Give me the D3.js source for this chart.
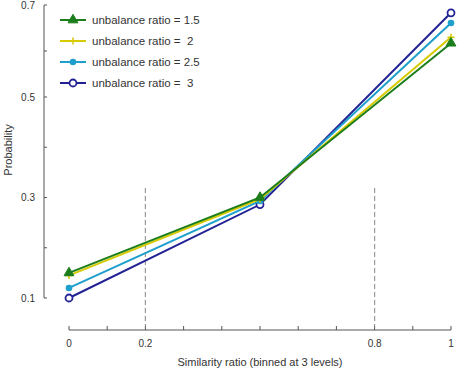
<!DOCTYPE html>
<html>
<head>
<meta charset="utf-8">
<script src="https://cdn.jsdelivr.net/npm/d3@7"></script>
<style>
  body { margin: 0; background: #fff; }
  svg text { font-family: "Liberation Sans", Arial, sans-serif; fill: #333; }
</style>
</head>
<body>
<svg id="chart" width="459" height="371"></svg>
<script>
// --- data ---
const xValues = [0, 0.5, 1];
const seriesNames = ["unbalance ratio = 1.5", "unbalance ratio =  2", "unbalance ratio = 2.5", "unbalance ratio =  3"];
const ratio15 = [0.150, 0.300, 0.617];
const ratio2 = [0.145, 0.297, 0.630];
const ratio25 = [0.120, 0.293, 0.661];
const ratio3 = [0.100, 0.286, 0.683];
const yTickLabels = [0.1, 0.3, 0.5, 0.7];
const xTickLabels = [0, 0.2, 0.8, 1];
const dashedAt = [0.2, 0.8];

const colors = ["#1b7d1b", "#d6ca00", "#1e9fcc", "#222295"];
const markers = ["triangle", "plus", "dot", "ring"];
const series = [ratio15, ratio2, ratio25, ratio3];

const svg = d3.select("#chart");

const x = d3.scaleLinear().domain([0, 1]).range([69, 451]);
const y = d3.scaleLinear().domain([0.1, 0.5, 0.7]).range([298, 97, 5]);

// --- y axis ---
const yAxis = svg.append("g").attr("transform", "translate(44,0)");
yAxis.append("line").attr("y1", y(0.7)).attr("y2", y(0.1)).attr("stroke", "#555");
yAxis.selectAll("line.tick").data(d3.range(1, 8).map(d => d / 10))
  .join("line").attr("class", "tick")
  .attr("x1", 0).attr("x2", 3)
  .attr("y1", d => y(d)).attr("y2", d => y(d))
  .attr("stroke", "#555");
yAxis.selectAll("text").data(yTickLabels).join("text")
  .attr("x", -9).attr("y", d => y(d)).attr("dy", "0.35em")
  .attr("text-anchor", "end").attr("font-size", 10)
  .text(d => d);

svg.append("text")
  .attr("transform", "translate(12,150) rotate(-90)")
  .attr("text-anchor", "middle").attr("font-size", 11)
  .text("Probability");

// --- x axis ---
const xAxis = svg.append("g").attr("transform", "translate(0,330)");
xAxis.append("line").attr("x1", x(0)).attr("x2", x(1)).attr("stroke", "#555");
xAxis.selectAll("line.tick").data(d3.range(0, 11).map(d => d / 10))
  .join("line").attr("class", "tick")
  .attr("x1", d => x(d)).attr("x2", d => x(d))
  .attr("y1", 0).attr("y2", -4)
  .attr("stroke", "#555");
xAxis.selectAll("text").data(xTickLabels).join("text")
  .attr("x", d => x(d)).attr("y", 17)
  .attr("text-anchor", "middle").attr("font-size", 10)
  .text(d => d);

svg.append("text")
  .attr("x", x(0.5)).attr("y", 366)
  .attr("text-anchor", "middle").attr("font-size", 11)
  .text("Similarity ratio (binned at 3 levels)");

// --- dashed lines ---
svg.selectAll("line.dash").data(dashedAt).join("line")
  .attr("class", "dash")
  .attr("x1", d => x(d)).attr("x2", d => x(d))
  .attr("y1", 188).attr("y2", 326)
  .attr("stroke", "#999").attr("stroke-width", 1.2)
  .attr("stroke-dasharray", "5,3");

// --- markers ---
function drawMarker(g, type, color, cx, cy) {
  if (type === "triangle") {
    g.append("path")
      .attr("d", d3.symbol(d3.symbolTriangle, 42)())
      .attr("transform", `translate(${cx},${cy})`)
      .attr("fill", color).attr("stroke", color);
  } else if (type === "plus") {
    g.append("path")
      .attr("d", `M${cx - 3.5},${cy}H${cx + 3.5}M${cx},${cy - 3.5}V${cy + 3.5}`)
      .attr("stroke", color).attr("stroke-width", 1.5);
  } else if (type === "dot") {
    g.append("circle").attr("cx", cx).attr("cy", cy).attr("r", 3.3).attr("fill", color);
  } else {
    g.append("circle").attr("cx", cx).attr("cy", cy).attr("r", 3.5)
      .attr("fill", "#fff").attr("stroke", color).attr("stroke-width", 1.8);
  }
}

// --- series (last series first so green ends on top) ---
const line = d3.line().x((d, i) => x(xValues[i])).y(d => y(d));
d3.range(series.length).reverse().forEach(s => {
  const g = svg.append("g");
  g.append("path").datum(series[s])
    .attr("d", line).attr("fill", "none")
    .attr("stroke", colors[s]).attr("stroke-width", 2);
  series[s].forEach((v, i) => drawMarker(g, markers[s], colors[s], x(xValues[i]), y(v)));
});

// --- legend ---
const legend = svg.append("g");
seriesNames.forEach((name, i) => {
  const ly = 20 + i * 21;
  const g = legend.append("g");
  g.append("line").attr("x1", 60).attr("x2", 86).attr("y1", ly).attr("y2", ly)
    .attr("stroke", colors[i]).attr("stroke-width", 2);
  drawMarker(g, markers[i], colors[i], 73, ly);
  g.append("text").attr("x", 92).attr("y", ly).attr("dy", "0.35em")
    .attr("font-size", 11.5).attr("xml:space", "preserve").style("white-space", "pre")
    .text(name);
});
</script>
</body>
</html>
